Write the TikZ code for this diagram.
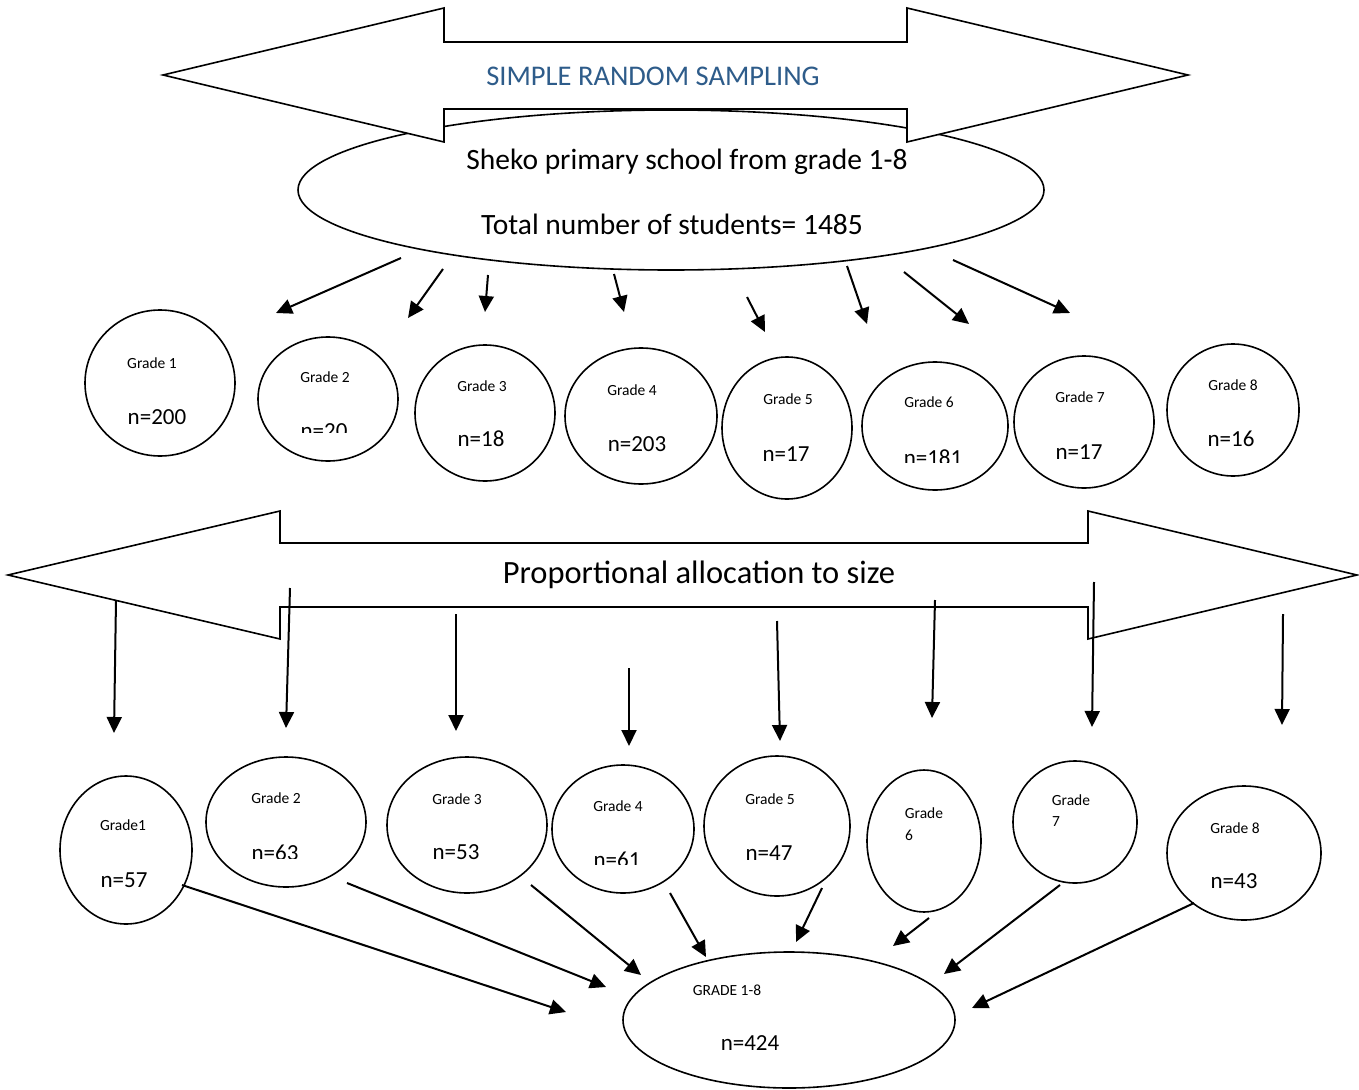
\documentclass[tikz,border=0pt]{standalone}
\usepackage{fontspec}
\setmainfont{Carlito}
\usetikzlibrary{arrows.meta,shapes.geometric}
\definecolor{titleblue}{RGB}{46, 92, 138}
\tikzset{
	oval/.style={draw=black, ellipse, line width=1.6pt, inner sep=0pt},
	blockarrow/.style={draw=black, fill=white, line width=1.6pt, line join=miter},
	bigtext/.style={font=\fontsize{29.5}{35}\selectfont, inner sep=0pt},
	numtext/.style={font=\fontsize{23}{28}\selectfont, inner sep=0pt},
	smalltext/.style={font=\fontsize{15.5}{19}\selectfont, inner sep=0pt},
	arr/.style={line width=2pt, -{Triangle[length=16pt, width=15pt]}}
}

\begin{document}
\begin{tikzpicture}[x=1pt, y=-1pt]
		\useasboundingbox (0,0) rectangle (1359,1089);

		\node[oval, minimum width=746pt, minimum height=160pt] (sheko) at (671,190) {};
		\filldraw[blockarrow] (163,75) -- (444,8) -- (444,42) -- (907,42) -- (907,8) -- (1188,75) -- (907,142) -- (907,109) -- (444,109) -- (444,142) -- cycle;
		\node[bigtext, font=\fontsize{28.5}{34}\selectfont, text=titleblue] (srs) at (653,76) {SIMPLE RANDOM SAMPLING};
		\node[bigtext] (shekoa) at (687,162) {Sheko primary school from grade 1-8};
		\node[bigtext] (shekob) at (672,224) {Total number of students= 1485};

		\node[oval, minimum width=150pt, minimum height=146pt] (g1) at (160,383) {};
		\node[oval, minimum width=140pt, minimum height=124pt] (g2) at (328,399) {};
		\node[oval, minimum width=140pt, minimum height=136pt] (g3) at (485,413) {};
		\node[oval, minimum width=152pt, minimum height=136pt] (g4) at (641,416) {};
		\node[oval, minimum width=130pt, minimum height=142pt] (g5) at (787,428) {};
		\node[oval, minimum width=146pt, minimum height=128pt] (g6) at (935,426) {};
		\node[oval, minimum width=140pt, minimum height=132pt] (g7) at (1084,422) {};
		\node[oval, minimum width=132pt, minimum height=132pt] (g8) at (1233,410) {};

		\node[smalltext] (g1a) at (152,363) {Grade 1};
		\node[numtext] (g1b) at (157,417) {n=200};
		\node[smalltext] (g2a) at (325,377) {Grade 2};
		\begin{scope}
			\clip (280,400) rectangle (370,432);
			\node[numtext] (g2b) at (324,431) {n=20};
		\end{scope}
		\node[smalltext] (g3a) at (482,386) {Grade 3};
		\node[numtext] (g3b) at (481,439) {n=18};
		\node[smalltext] (g4a) at (632,390) {Grade 4};
		\node[numtext] (g4b) at (637,444) {n=203};
		\node[smalltext] (g5a) at (788,399) {Grade 5};
		\node[numtext] (g5b) at (786,454) {n=17};
		\node[smalltext] (g6a) at (929,402) {Grade 6};
		\begin{scope}
			\clip (880,430) rectangle (990,462);
			\node[numtext] (g6b) at (933,458) {n=181};
		\end{scope}
		\node[smalltext] (g7a) at (1080,397) {Grade 7};
		\node[numtext] (g7b) at (1079,452) {n=17};
		\node[smalltext] (g8a) at (1233,385) {Grade 8};
		\node[numtext] (g8b) at (1231,439) {n=16};

		\coordinate (t1s) at (401,258); \coordinate (t1e) at (276,313);
		\coordinate (t2s) at (443,269); \coordinate (t2e) at (408,318);
		\coordinate (t3s) at (488,275); \coordinate (t3e) at (485,312);
		\coordinate (t4s) at (614,274); \coordinate (t4e) at (624,312);
		\coordinate (t5s) at (747,297); \coordinate (t5e) at (765,332);
		\coordinate (t6s) at (847,266); \coordinate (t6e) at (867,324);
		\coordinate (t7s) at (904,272); \coordinate (t7e) at (969,324);
		\coordinate (t8s) at (953,260); \coordinate (t8e) at (1070,313);
		\foreach \i in {1,...,8}
			\draw[arr] (t\i s) -- (t\i e);

		\filldraw[blockarrow] (8,575) -- (280,511) -- (280,543) -- (1088,543) -- (1088,511) -- (1357,575) -- (1088,639) -- (1088,607) -- (280,607) -- (280,639) -- cycle;
		\node[bigtext, font=\fontsize{32.5}{38}\selectfont] (propalloc) at (699,575) {Proportional allocation to size};

		\coordinate (d1s) at (116,600); \coordinate (d1e) at (114,733);
		\coordinate (d2s) at (290,588); \coordinate (d2e) at (286,728);
		\coordinate (d3s) at (456,614); \coordinate (d3e) at (456,731);
		\coordinate (d4s) at (629,668); \coordinate (d4e) at (629,746);
		\coordinate (d5s) at (777,621); \coordinate (d5e) at (780,741);
		\coordinate (d6s) at (935,600); \coordinate (d6e) at (932,718);
		\coordinate (d7s) at (1094,582); \coordinate (d7e) at (1092,727);
		\coordinate (d8s) at (1283,614); \coordinate (d8e) at (1282,725);
		\foreach \i in {1,...,8}
			\draw[arr] (d\i s) -- (d\i e);

		\node[oval, minimum width=132pt, minimum height=148pt] (b1) at (126,850) {};
		\node[oval, minimum width=160pt, minimum height=130pt] (b2) at (286,822) {};
		\node[oval, minimum width=160pt, minimum height=136pt] (b3) at (467,825) {};
		\node[oval, minimum width=142pt, minimum height=128pt] (b4) at (623,829) {};
		\node[oval, minimum width=146pt, minimum height=140pt] (b5) at (777,826) {};
		\node[oval, minimum width=114pt, minimum height=142pt] (b6) at (924,841) {};
		\node[oval, minimum width=124pt, minimum height=122pt] (b7) at (1075,822) {};
		\node[oval, minimum width=154pt, minimum height=134pt] (b8) at (1244,853) {};

		\node[smalltext] (b1a) at (123,825) {Grade1};
		\node[numtext] (b1b) at (124,880) {n=57};
		\node[smalltext] (b2a) at (276,798) {Grade 2};
		\begin{scope}
			\clip (230,830) rectangle (330,858);
			\node[numtext] (b2b) at (275,853) {n=63};
		\end{scope}
		\node[smalltext] (b3a) at (457,799) {Grade 3};
		\node[numtext] (b3b) at (456,852) {n=53};
		\node[smalltext] (b4a) at (618,806) {Grade 4};
		\begin{scope}
			\clip (580,835) rectangle (660,864);
			\node[numtext] (b4b) at (617,860) {n=61};
		\end{scope}
		\node[smalltext] (b5a) at (770,799) {Grade 5};
		\node[numtext] (b5b) at (769,853) {n=47};
		\node[smalltext] (b6a) at (924,813) {Grade};
		\node[smalltext, anchor=west] (b6b) at (905,835) {6};
		\node[smalltext] (b7a) at (1071,800) {Grade};
		\node[smalltext, anchor=west] (b7b) at (1052,822) {7};
		\node[smalltext] (b8a) at (1235,828) {Grade 8};
		\node[numtext] (b8b) at (1234,881) {n=43};

		\node[oval, minimum width=332pt, minimum height=136pt] (total) at (789,1020) {};
		\node[smalltext] (totala) at (727,990) {GRADE 1-8};
		\node[numtext] (totalb) at (750,1043) {n=424};

		\coordinate (u1s) at (182,885); \coordinate (u1e) at (566,1012);
		\coordinate (u2s) at (347,883); \coordinate (u2e) at (606,987);
		\coordinate (u3s) at (531,885); \coordinate (u3e) at (641,975);
		\coordinate (u4s) at (670,893); \coordinate (u4e) at (706,957);
		\coordinate (u5s) at (822,888); \coordinate (u5e) at (796,942);
		\coordinate (u6s) at (929,918); \coordinate (u6e) at (893,946);
		\coordinate (u7s) at (1060,885); \coordinate (u7e) at (944,974);
		\coordinate (u8s) at (1194,903); \coordinate (u8e) at (972,1008);
		\foreach \i in {1,...,8}
			\draw[arr] (u\i s) -- (u\i e);
\end{tikzpicture}
\end{document}
